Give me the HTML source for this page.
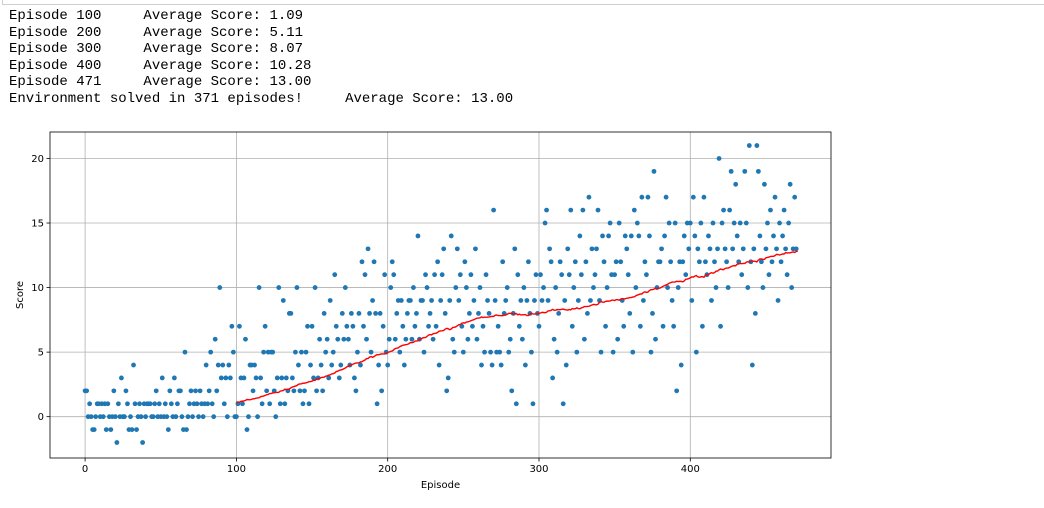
<!DOCTYPE html>
<html><head><meta charset="utf-8"><style>
html,body{margin:0;padding:0;background:#fff;width:1044px;height:508px;overflow:hidden;position:relative}
.frame{position:absolute;left:2px;top:-2px;width:1050px;height:6px;border:1px solid #cfcfcf;border-top:none;border-right:none}
pre{position:absolute;left:9px;top:8px;margin:0;font-family:"Liberation Mono",monospace;font-size:14px;line-height:16.6px;color:#000}
svg{position:absolute;left:0;top:0}
svg text{font-family:"DejaVu Sans",sans-serif;font-size:10px;fill:#000}
</style></head><body>
<div class="frame"></div>
<pre>Episode 100	Average Score: 1.09
Episode 200	Average Score: 5.11
Episode 300	Average Score: 8.07
Episode 400	Average Score: 10.28
Episode 471	Average Score: 13.00
Environment solved in 371 episodes!	Average Score: 13.00</pre>
<svg id="chart" width="1044" height="508"></svg>
<script>
const scores = [
2,2,0,1,0,-1,-1,0,1,1, 0,1,0,1,-1,1,0,-1,0,2, 0,-2,1,0,3,0,0,2,1,-1, 0,-1,4,1,-1,0,1,0,-2,1,
0,1,1,1,0,0,1,2,0,1, 0,3,0,1,0,-1,2,1,0,3, 0,1,2,2,0,-1,5,-1,0,1, 2,0,1,2,1,0,2,1,0,1,
4,1,2,5,1,0,6,2,4,10, 3,4,1,3,0,4,3,7,5,0,
0,1,7,3,1,3,6,-1,0,4, 4,2,4,3,0,10,3,1,5,7, 2,5,1,5,5,2,0,3,10,1, 3,9,1,3,2,8,8,3,2,5,
10,4,2,5,1,2,5,7,1,4, 7,3,10,2,3,6,4,2,8,5, 6,3,9,4,5,11,7,6,3,4, 8,6,10,7,6,4,8,7,3,2,
5,8,4,12,7,11,6,13,8,5, 9,12,8,1,4,8,2,7,11,5,
4,6,10,12,11,6,8,9,5,9, 7,4,6,8,9,9,6,10,7,8, 14,6,9,9,5,11,10,7,8,9, 6,11,7,12,4,9,11,13,8,2,
3,9,14,6,5,10,13,9,11,7, 5,12,10,6,8,11,7,9,13,6, 8,10,4,7,5,11,9,8,5,4, 16,9,5,7,5,4,12,8,9,10,
5,6,2,8,13,1,11,7,9,6, 10,4,9,12,8,5,1,9,11,8,
7,11,9,10,15,16,9,13,12,3, 6,10,5,8,12,11,1,9,4,13, 11,16,7,10,12,5,9,14,11,16, 6,12,8,17,9,13,10,11,13,16,
9,5,14,12,7,10,14,15,11,5, 11,12,6,15,12,9,7,14,13,11, 8,14,5,16,10,15,14,7,17,9, 12,11,17,14,5,8,19,6,10,12,
12,13,7,14,17,10,15,12,9,7, 15,2,10,12,4,12,14,11,15,13,
15,9,17,14,5,13,12,15,7,17, 12,11,14,13,9,15,12,10,13,20, 7,15,16,13,12,10,16,19,13,15,
18,14,12,15,11,13,19,15,10,21, 12,4,13,8,21,19,14,12,10,18, 13,15,11,16,12,14,17,13,9,15,
12,14,16,13,11,15,18,10,13,17,13];
const xTicks = [0,100,200,300,400];
const yTicks = [0,5,10,15,20];
const WINDOW = 100;

const L=50,T=132,R=831,B=458;
const X0=-23.2,X1=493.0,Y0=-3.2,Y1=22.05;
const sx=v=>L+(v-X0)/(X1-X0)*(R-L);
const sy=v=>B-(v-Y0)/(Y1-Y0)*(B-T);
const NS='http://www.w3.org/2000/svg';
const svg=document.getElementById('chart');
function mk(tag,attrs,parent){const e=document.createElementNS(NS,tag);for(const k in attrs)e.setAttribute(k,attrs[k]);(parent||svg).appendChild(e);return e;}

const grid=mk('g',{});


xTicks.forEach(t=>{
  const l=mk('line',{x1:sx(t),x2:sx(t),y1:T,y2:B,stroke:'#b0b0b0','stroke-width':0.8},grid);
  
  
  const tk=mk('line',{x1:sx(t),x2:sx(t),y1:B,y2:B+3.5,stroke:'#000','stroke-width':0.8});
  
  
  const tx=mk('text',{x:sx(t),y:B+14,'text-anchor':'middle'});tx.textContent=t;
  
  
});
yTicks.forEach(t=>{
  const l=mk('line',{x1:L,x2:R,y1:sy(t),y2:sy(t),stroke:'#b0b0b0','stroke-width':0.8},grid);
  
  
  const tk=mk('line',{x1:L-3.5,x2:L,y1:sy(t),y2:sy(t),stroke:'#000','stroke-width':0.8});
  
  
  const tx=mk('text',{x:L-6,y:sy(t)+3.5,'text-anchor':'end'});tx.textContent=t;
  
  
});

const pts=mk('g',{fill:'#1f77b4'});


scores.forEach((s,i)=>{
  const c=mk('circle',{cx:sx(i),cy:sy(s),r:2.4},pts);
  
  
});

let d='';
for(let i=WINDOW-1;i<scores.length;i++){
  let sum=0;for(let j=i-WINDOW+1;j<=i;j++)sum+=scores[j];
  d+=(d?'L':'M')+sx(i+1).toFixed(2)+','+sy(sum/WINDOW).toFixed(2);
}
const avg=mk('path',{d:d,fill:'none',stroke:'#ff0000','stroke-width':1.4});



const frame=mk('rect',{x:L,y:T,width:R-L,height:B-T,fill:'none',stroke:'#000','stroke-width':0.8});



const xl=mk('text',{x:(L+R)/2,y:B+30,'text-anchor':'middle'});xl.textContent='Episode';


const yl=mk('text',{x:0,y:0,'text-anchor':'middle',transform:`translate(23,${(T+B)/2}) rotate(-90)`});yl.textContent='Score';


</script>
</body></html>
